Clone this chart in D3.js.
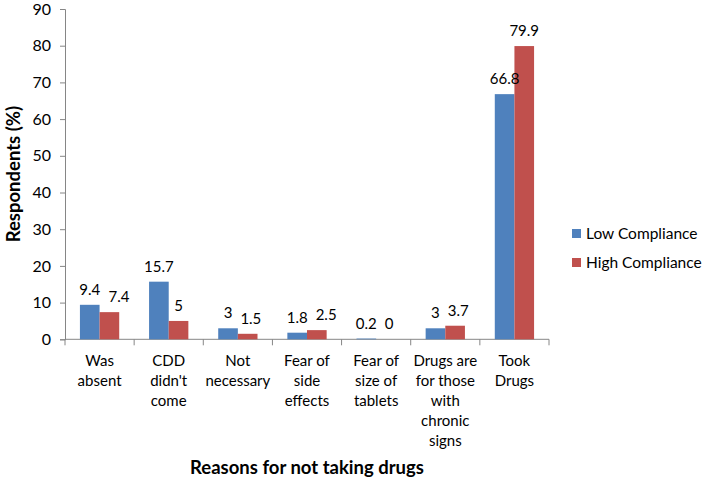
<!DOCTYPE html>
<html>
<head>
<meta charset="utf-8">
<script src="https://cdn.jsdelivr.net/npm/d3@7"></script>
<style>
  html, body { margin: 0; padding: 0; background: #fff; }
  svg { display: block; font-family: Lato, "Open Sans", sans-serif; }
</style>
</head>
<body>
<svg id="chart" width="702" height="483"></svg>
<script>
const categories = ["Was absent", "CDD didn't come", "Not necessary", "Fear of side effects", "Fear of size of tablets", "Drugs are for those with chronic signs", "Took Drugs"];
const seriesNames = ["Low Compliance", "High Compliance"];
const lowCompliance = [9.4, 15.7, 3, 1.8, 0.2, 3, 66.8];
const highCompliance = [7.4, 5, 1.5, 2.5, 0, 3.7, 79.9];
const yTicks = [0, 10, 20, 30, 40, 50, 60, 70, 80, 90];
const xTitle = "Reasons for not taking drugs";
const yTitle = "Respondents (%)";

(function () {
const colors = ["#4F81BD", "#C0504D"];
const svg = d3.select("#chart");
const mLeft = 65, mRight = 549, mTop = 9, mBottom = 339.3;

const x = d3.scaleBand().domain(categories).range([mLeft, mRight]).paddingInner(0).paddingOuter(0);
const x1 = d3.scaleBand().domain(seriesNames).range([0, x.bandwidth()]).paddingOuter(0.76).paddingInner(0);
const y = d3.scaleLinear().domain([0, 90]).range([mBottom, mTop]);

// Y axis
const yAxis = d3.axisLeft(y).tickValues(yTicks).tickSize(5).tickPadding(9);
const gy = svg.append("g").attr("transform", `translate(${mLeft},0)`).call(yAxis);
gy.select(".domain").attr("stroke", "#868686");
gy.selectAll(".tick line").attr("stroke", "#868686");
gy.selectAll(".tick text").attr("fill", "#000").style("font-size", "16px").style("font-family", "Lato");

// X axis
const gx = svg.append("g").attr("transform", `translate(0,${mBottom})`);
gx.append("line").attr("x1", mLeft).attr("x2", mRight).attr("y1", 0).attr("y2", 0).attr("stroke", "#868686");
const bounds = categories.map((c) => x(c)).concat([mRight]);
gx.selectAll(".xt").data(bounds).join("line")
  .attr("x1", (d) => d).attr("x2", (d) => d).attr("y1", 0).attr("y2", 6).attr("stroke", "#868686");

// Category labels with wrapping
const maxW = x.bandwidth() - 2;
categories.forEach((c) => {
  const cx = x(c) + x.bandwidth() / 2;
  const t = svg.append("text").attr("text-anchor", "middle")
    .attr("x", cx).attr("y", mBottom + 27)
    .style("font-size", "15px").attr("fill", "#000");
  const words = c.split(" ");
  let line = [];
  let tspan = t.append("tspan").attr("x", cx).attr("dy", 0);
  words.forEach((w) => {
    line.push(w);
    tspan.text(line.join(" "));
    if (tspan.node().getComputedTextLength() > maxW && line.length > 1) {
      line.pop();
      tspan.text(line.join(" "));
      line = [w];
      tspan = t.append("tspan").attr("x", cx).attr("dy", 20).text(w);
    }
  });
});

// Bars
const data = categories.map((c, i) => ({ c, vals: [lowCompliance[i], highCompliance[i]] }));
const groups = svg.append("g").selectAll("g").data(data).join("g")
  .attr("transform", (d) => `translate(${x(d.c)},0)`);
groups.selectAll("rect").data((d) => d.vals.map((v, j) => ({ v, j }))).join("rect")
  .attr("x", (d) => x1(seriesNames[d.j]))
  .attr("width", x1.bandwidth())
  .attr("y", (d) => y(d.v))
  .attr("height", (d) => mBottom - y(d.v))
  .attr("fill", (d) => colors[d.j]);

// Value labels with simple overlap avoidance
data.forEach((d) => {
  const nodes = d.vals.map((v, j) => svg.append("text").attr("text-anchor", "middle")
    .attr("x", x(d.c) + x1(seriesNames[j]) + x1.bandwidth() / 2)
    .attr("y", y(v) - 10)
    .style("font-size", "15px").attr("fill", "#000").text(v));
  const b0 = nodes[0].node().getBBox();
  const b1 = nodes[1].node().getBBox();
  const vOverlap = !(b1.y > b0.y + b0.height || b0.y > b1.y + b1.height);
  if (vOverlap && b1.x < b0.x + b0.width + 8) {
    const shift = b0.x + b0.width + 8 - b1.x;
    nodes[1].attr("x", +nodes[1].attr("x") + shift);
  }
});

// Axis titles
svg.append("text").attr("x", (mLeft + mRight) / 2).attr("y", 474).attr("text-anchor", "middle")
  .style("font-size", "18.5px").style("font-weight", "bold").text(xTitle);
svg.append("text").attr("transform", `translate(20,${(mTop + mBottom) / 2}) rotate(-90)`)
  .attr("text-anchor", "middle").style("font-size", "18.5px").style("font-weight", "bold").text(yTitle);

// Legend
const legend = svg.append("g").attr("transform", "translate(572,229)");
seriesNames.forEach((s, i) => {
  const g = legend.append("g").attr("transform", `translate(0,${i * 29})`);
  g.append("rect").attr("width", 9).attr("height", 9).attr("fill", colors[i]);
  g.append("text").attr("x", 14).attr("y", 10).style("font-size", "15.5px").text(s);
});
})();
</script>
</body>
</html>
